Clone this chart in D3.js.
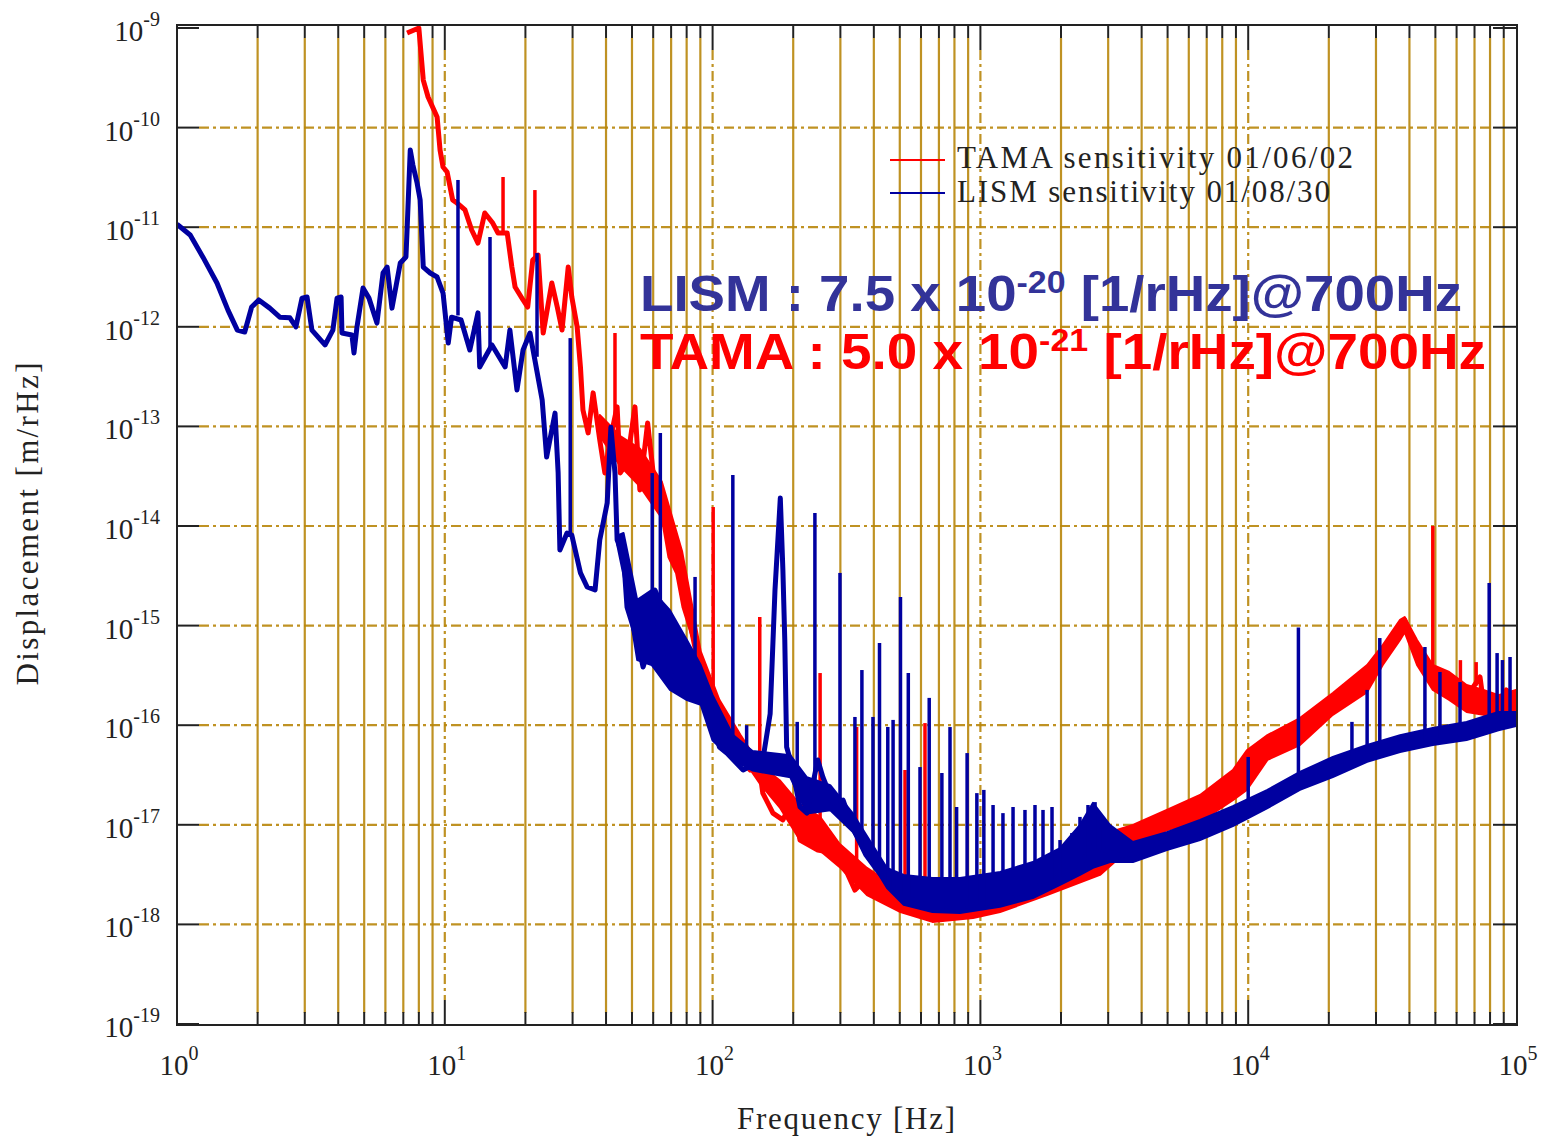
<!DOCTYPE html>
<html>
<head>
<meta charset="utf-8">
<script src="https://cdn.jsdelivr.net/npm/d3@7"></script>
<style>
  body { margin: 0; background: #fff; }
  svg { display: block; }
</style>
</head>
<body>
<div id="chart"></div>
<script>
// LISM sensitivity 01/08/30 (blue), Hz vs m/rHz
var lismFreq = [1.0, 1.12, 1.25, 1.41, 1.55, 1.68, 1.79, 1.9, 2.02, 2.22, 2.42, 2.64, 2.78, 2.93, 3.06, 3.19,
  3.57, 3.82, 3.96, 4.1, 4.13, 4.5, 4.58, 4.7, 4.95, 5.21, 5.58, 5.88, 6.09, 6.35, 6.82, 7.16, 7.23, 7.43,
  7.6, 7.88, 8.09, 8.31, 8.82, 9.36, 9.85, 10.3, 10.6, 11.5, 12.4, 13.3, 13.5, 15.0, 16.8, 17.5, 18.6, 19.6,
  20.8, 23.1, 24.0, 25.8, 26.5, 26.9, 28.6, 29.8, 32.1, 34.0, 36.4, 37.9, 40.4, 41.7, 43.2, 44.0, 46.5, 47.9,
  52.3, 55.0, 59.2, 60.9, 65.0, 69.3, 80.2, 95, 100, 106, 113, 130, 141, 154, 164, 171, 179, 183, 186, 189,
  195, 212, 225, 247, 258, 282, 307, 334, 374, 411, 448, 517, 580, 662, 839, 970, 1184, 1406, 1773, 2100,
  2400, 2650, 2900, 3300, 3712, 4967, 6610, 8762, 9885, 11800, 15300, 15750, 20700, 25000, 28500, 36900,
  46900, 53400, 63500, 73400, 81000, 91000, 100000];
var lismDisp = [1.07e-11, 8.35e-12, 5.0e-12, 2.75e-12, 1.47e-12, 9.27e-13, 8.86e-13, 1.58e-12, 1.86e-12,
  1.54e-12, 1.25e-12, 1.23e-12, 1.0e-12, 1.94e-12, 1.99e-12, 9.27e-13, 6.57e-13, 9.27e-13, 1.94e-12,
  1.99e-12, 8.66e-13, 8.28e-13, 5.46e-13, 1.0e-12, 2.45e-12, 1.94e-12, 1.09e-12, 3.47e-12, 3.98e-12,
  1.54e-12, 4.37e-12, 5.02e-12, 9.37e-12, 5.96e-11, 4.21e-11, 2.78e-11, 1.88e-11, 3.98e-12, 3.47e-12,
  3.16e-12, 2.18e-12, 6.86e-13, 1.25e-12, 1.17e-12, 5.85e-13, 1.38e-12, 3.95e-13, 6.57e-13, 3.95e-13,
  9.27e-13, 2.32e-13, 5.85e-13, 8.66e-13, 1.84e-13, 4.93e-14, 1.36e-13, 3.41e-14, 5.74e-15, 8.5e-15,
  8.1e-15, 3.38e-15, 2.44e-15, 2.28e-15, 7.24e-15, 1.70e-14, 9.8e-14, 3.41e-14, 7.24e-15, 4.88e-15,
  1.54e-15, 7.18e-16, 3.84e-16, 7.18e-16, 2.28e-15, 1.54e-15, 3.34e-16, 2.26e-16, 2.26e-16, 1.13e-16,
  6.04e-17, 5.25e-17, 3.55e-17, 3.98e-17, 4.48e-17, 1.3e-16, 2.28e-15, 1.91e-14, 3.62e-15, 7.18e-16,
  6.04e-17, 4.48e-17, 1.51e-17, 1.31e-17, 4.48e-17, 3.02e-17, 1.66e-17, 1.77e-17, 9.27e-18, 4.97e-18,
  3.52e-18, 2.66e-18, 1.97e-18, 1.68e-18, 1.53e-18, 1.50e-18, 1.57e-18, 1.76e-18, 2.07e-18, 2.66e-18,
  3.36e-18, 4.23e-18, 6.28e-18, 5.58e-18, 4.97e-18, 5.1e-18, 7.03e-18, 8.86e-18, 1.17e-17, 1.41e-17,
  1.77e-17, 2.63e-17, 2.95e-17, 3.98e-17, 5.0e-17, 5.63e-17, 6.6e-17, 7.1e-17, 7.44e-17, 7.8e-17,
  8.35e-17, 9.37e-17, 1.08e-16, 1.08e-16];
// noise band of the trace: [frequency, bottom, top]
var lismBand = [[44.0, 6.5e-15, 8e-15], [46.5, 3.2e-15, 8.5e-15], [52.3, 4.51e-16, 1.81e-15],
  [59.2, 4.02e-16, 2.28e-15], [69.3, 2.26e-16, 1.43e-15], [80.2, 1.79e-16, 7.18e-16], [90.3, 1.6e-16, 4.02e-16],
  [100, 7e-17, 2.0e-16], [119, 4.5e-17, 8e-17], [141, 3.5e-17, 5.5e-17], [195, 3e-17, 5e-17],
  [225, 1.3e-17, 3e-17], [275, 1.4e-17, 2.5e-17], [334, 8.45e-18, 1.3e-17],
  [448, 2.32e-18, 3.69e-18], [517, 1.57e-18, 3.14e-18],
  [662, 1.33e-18, 2.93e-18], [839, 1.30e-18, 2.93e-18], [1184, 1.5e-18, 3.36e-18], [1571, 1.84e-18, 4.23e-18],
  [1983, 2.49e-18, 5.84e-18], [2354, 3.14e-18, 9.95e-18], [2633, 3.69e-18, 1.66e-17], [3050, 4.23e-18, 9.95e-18],
  [3712, 4.23e-18, 6.71e-18], [4967, 5.58e-18, 8.45e-18], [6610, 7.03e-18, 1.12e-17], [8762, 9.7e-18, 1.54e-17],
  [11800, 1.47e-17, 2.24e-17], [15600, 2.24e-17, 3.39e-17], [20700, 3.02e-17, 4.8e-17], [27800, 4.28e-17, 6.33e-17],
  [36900, 5.37e-17, 7.95e-17], [48900, 6.33e-17, 9.37e-17], [65400, 7.1e-17, 1.08e-16], [86000, 8.9e-17, 1.36e-16],
  [100000, 9.8e-17, 1.36e-16]];
// narrow lines: [frequency, foot, peak]
var lismSpikes = [[11.2, 1.3e-12, 2.98e-11], [14.75, 6e-13, 7.97e-12], [22.1, 5e-13, 5.5e-12],
  [29.4, 8e-15, 7.7e-13], [59.5, 7e-16, 3.4e-14], [63.8, 1.6e-15, 8.6e-14], [86.0, 2.3e-16, 3.08e-15],
  [119, 5.5e-17, 3.25e-14], [134, 4e-17, 1.0e-16], [207, 2.5e-17, 1.08e-16], [241, 1.35e-17, 1.35e-14],
  [299, 1.7e-17, 3.38e-15], [340, 8e-18, 1.21e-16], [361, 6e-18, 3.58e-16], [397, 4e-18, 1.21e-16],
  [420, 3.3e-18, 6.7e-16], [451, 2.6e-18, 9.6e-17], [472, 2.4e-18, 1.13e-16], [503, 2e-18, 1.94e-15],
  [538, 1.9e-18, 3.34e-16], [595, 1.65e-18, 3.8e-17], [644, 1.55e-18, 1.88e-16], [718, 1.5e-18, 3.31e-17],
  [770, 1.5e-18, 9.58e-17], [815, 1.5e-18, 1.51e-17], [892, 1.5e-18, 5.25e-17], [970, 1.55e-18, 2.08e-17],
  [1030, 1.6e-18, 2.24e-17], [1115, 1.7e-18, 1.58e-17], [1214, 1.8e-18, 1.31e-17], [1324, 1.95e-18, 1.51e-17],
  [1467, 2.15e-18, 1.41e-17], [1599, 2.35e-18, 1.58e-17], [1713, 2.55e-18, 1.41e-17], [1851, 2.8e-18, 1.51e-17],
  [1983, 3e-18, 7.03e-18], [2197, 3.4e-18, 8.28e-18], [2354, 3.9e-18, 1.2e-17], [2522, 4.6e-18, 1.58e-17],
  [2680, 5.5e-18, 1.69e-17], [2796, 5.5e-18, 1.26e-17], [2970, 5.4e-18, 9.27e-18], [10000, 1.41e-17, 4.8e-17],
  [15400, 2.7e-17, 9.55e-16], [24400, 5e-17, 1.08e-16], [27800, 5.4e-17, 2.26e-16], [31000, 5.9e-17, 7.5e-16],
  [45700, 7e-17, 6.1e-16], [52000, 7.3e-17, 3.42e-16], [61800, 7.7e-17, 2.71e-16], [79400, 8.8e-17, 2.68e-15],
  [85000, 1e-16, 5.3e-16], [89000, 1.05e-16, 4.51e-16], [95000, 1.1e-16, 4.84e-16]];

// TAMA sensitivity 01/06/02 (red)
var tamaFreq = [7.23, 8.0, 8.31, 8.66, 9.36, 9.6, 9.85, 10.2, 10.7, 11.1, 11.9, 12.6, 13.3, 14.1, 15.1, 15.8,
  17.1, 17.8, 18.3, 19.6, 20.4, 21.3, 22.3, 23.3, 25.1, 26.3, 27.4, 28.9, 29.8, 31.2, 32.1, 32.8, 34.3, 35.8,
  37.9, 39.6, 41.4, 44.0, 45.2, 47.9, 51.3, 53.5, 57.2, 60.4, 65.9, 69.3, 74.0, 78.2, 85.5, 90.3, 98.8, 103,
  106, 119, 138, 148, 154, 168, 183, 199, 212, 247, 282, 318, 340, 355, 377, 448, 503, 538, 560, 637, 792,
  939, 1115, 1406, 1773, 2217, 2796, 3233, 3712, 4967, 6610, 8762, 9885, 11800, 15600, 20700, 27800, 31800,
  36900, 38400, 42700, 46600, 48500, 56300, 65400, 73400, 75600, 86000, 92000, 97500, 100000];
var tamaDisp = [8.9e-10, 1.0e-9, 3.0e-10, 2.03e-10, 1.28e-10, 5.96e-11, 4.02e-11, 3.58e-11, 1.88e-11,
  1.75e-11, 1.49e-11, 9.37e-12, 6.93e-12, 1.39e-11, 1.10e-11, 8.75e-12, 8.75e-12, 3.98e-12, 2.51e-12,
  1.86e-12, 1.58e-12, 4.68e-12, 5.25e-12, 8.66e-13, 2.75e-12, 1.58e-12, 9.27e-13, 3.98e-12, 1.99e-12,
  1.0e-12, 3.95e-13, 1.46e-13, 8.6e-14, 2.17e-13, 7.3e-14, 3.41e-14, 7.3e-14, 1.57e-13, 3.41e-14, 4.3e-14,
  1.57e-13, 2.3e-14, 1.08e-13, 2.9e-14, 1.07e-14, 4.88e-15, 3.38e-15, 1.54e-15, 7.18e-16, 3.34e-16,
  1.79e-16, 1.79e-16, 1.33e-16, 6.04e-17, 3.55e-17, 4.48e-17, 2.08e-17, 1.31e-17, 1.12e-17, 1.77e-17,
  7.03e-18, 5.58e-18, 5.23e-18, 3.28e-18, 2.21e-18, 2.49e-18, 2.79e-18, 2.07e-18, 1.64e-18, 1.57e-18,
  1.39e-18, 1.33e-18, 1.19e-18, 1.39e-18, 1.88e-18, 2.21e-18, 2.79e-18, 3.28e-18, 4.54e-18, 7.03e-18,
  8.28e-18, 1.2e-17, 1.51e-17, 2.63e-17, 4.17e-17, 6.04e-17, 8.95e-17, 1.67e-16, 3.05e-16, 5.69e-16,
  9.7e-16, 1.14e-15, 5.69e-16, 3.34e-16, 2.84e-16, 2.65e-16, 1.92e-16, 3.05e-16, 1.67e-16, 1.52e-16,
  2.26e-16, 1.92e-16, 1.79e-16];
var tamaBand = [[37.9, 8e-14, 1.3e-13], [45.2, 4e-14, 8e-14], [53.5, 2.5e-14, 6e-14],
  [64.6, 1.2e-14, 2.8e-14], [77.0, 2.2e-15, 5.5e-15], [90.3, 2.6e-16, 5.5e-16], [106, 1.1e-16, 1.8e-16],
  [127, 5e-17, 8e-17], [150, 2.6e-17, 4e-17], [178, 1.5e-17, 2.8e-17], [212, 7e-18, 1.6e-17],
  [252, 5.5e-18, 1.2e-17], [297, 3.8e-18, 6.5e-18], [377, 1.97e-18, 3.69e-18], [503, 1.33e-18, 2.21e-18],
  [662, 1.06e-18, 1.97e-18], [939, 1.16e-18, 2.21e-18], [1184, 1.33e-18, 2.79e-18], [1773, 1.97e-18, 3.96e-18],
  [2796, 3.14e-18, 6.28e-18], [3233, 4.43e-18, 8.86e-18], [3712, 5.84e-18, 9.95e-18], [4967, 8.86e-18, 1.41e-17],
  [6610, 1.07e-17, 1.99e-17], [8762, 1.77e-17, 3.55e-17], [9885, 2.24e-17, 5.6e-17], [11800, 4.48e-17, 7.95e-17],
  [15600, 6.33e-17, 1.18e-16], [20700, 1.27e-16, 2.1e-16], [27800, 2.15e-16, 4.02e-16], [31800, 4.02e-16, 6.38e-16],
  [36900, 7.18e-16, 1.14e-15], [38400, 8.6e-16, 1.22e-15], [42700, 4.02e-16, 7.18e-16], [48900, 2.26e-16, 4.02e-16],
  [56300, 1.79e-16, 3.42e-16], [65400, 1.36e-16, 2.53e-16], [75600, 1.27e-16, 2.26e-16], [86000, 1.13e-16, 2.0e-16],
  [100000, 1.27e-16, 2.26e-16]];
var tamaSpikes = [[16.5, 8.75e-12, 3.19e-11], [21.7, 4.5e-12, 2.36e-11], [43.2, 1.2e-13, 8.66e-13],
  [100.5, 1.79e-16, 1.55e-14], [150, 3e-17, 1.22e-15], [252, 5.5e-18, 3.34e-16], [345, 2.3e-18, 9.58e-17],
  [523, 1.6e-18, 3.55e-17], [621, 1.35e-18, 1.05e-16], [48900, 2.8e-16, 1.0e-14], [62000, 2.2e-16, 4.5e-16],
  [71000, 2.5e-16, 4.3e-16]];

var xDecades = [0, 1, 2, 3, 4, 5];
var yDecades = [-9, -10, -11, -12, -13, -14, -15, -16, -17, -18, -19];
var legendNames = ['TAMA sensitivity 01/06/02', 'LISM sensitivity 01/08/30'];

var W = 1545, H = 1140;
var pl = 177, pr = 1517, pt = 25, pb = 1025;
var gridColor = '#b8860b', ink = '#222';
var serif = "'Palatino Linotype', 'Book Antiqua', Palatino, 'Liberation Serif', 'Times New Roman', serif";
var sans = "Arial, 'Liberation Sans', Helvetica, sans-serif";
var red = '#ff0000', blue = '#0000a0';

var svg = d3.select('#chart').append('svg').attr('width', W).attr('height', H);

var x = d3.scaleLog().domain([1, 1e5]).range([177, 1516]);
var y = d3.scaleLog().domain([1e-9, 1e-19]).range([28, 1024]);

// grid
var minorX = [];
xDecades.slice(0, -1).forEach(function(k) {
  for (var m = 2; m <= 9; m++) minorX.push(m * Math.pow(10, k));
});
var midX = xDecades.slice(1, -1).map(function(k) { return Math.pow(10, k); });
var midY = yDecades.slice(1, -1).map(function(e) { return Math.pow(10, e); });

var g = svg.append('g').attr('stroke', gridColor).attr('stroke-width', 2.2).attr('stroke-opacity', 0.9);
g.selectAll('.vminor').data(minorX).enter().append('line')
  .attr('x1', x).attr('x2', x).attr('y1', pt + 13).attr('y2', pb - 12);
g.selectAll('.vmajor').data(midX).enter().append('line')
  .attr('x1', x).attr('x2', x).attr('y1', pt + 25).attr('y2', pb - 25)
  .attr('stroke-dasharray', '10,4,3,4');
g.selectAll('.hmajor').data(midY).enter().append('line')
  .attr('x1', pl + 22).attr('x2', pr - 24).attr('y1', y).attr('y2', y)
  .attr('stroke-dasharray', '10,4,3,4');

// ticks
var t = svg.append('g').attr('stroke', ink).attr('stroke-width', 2);
[pt, pb].forEach(function(edge) {
  var dir = edge === pt ? 1 : -1;
  t.selectAll(null).data(minorX).enter().append('line')
    .attr('x1', x).attr('x2', x).attr('y1', edge).attr('y2', edge + dir * 13);
  t.selectAll(null).data(midX).enter().append('line')
    .attr('x1', x).attr('x2', x).attr('y1', edge).attr('y2', edge + dir * 25);
});
var allY = yDecades.map(function(e) { return Math.pow(10, e); });
t.selectAll(null).data(allY).enter().append('line')
  .attr('x1', pl).attr('x2', pl + 22).attr('y1', y).attr('y2', y);
t.selectAll(null).data(allY).enter().append('line')
  .attr('x1', pr - 24).attr('x2', pr).attr('y1', y).attr('y2', y);

// curves
svg.append('clipPath').attr('id', 'clip').append('rect')
  .attr('x', pl).attr('y', pt).attr('width', pr - pl).attr('height', pb - pt);
var plot = svg.append('g').attr('clip-path', 'url(#clip)');
var line = d3.line().x(function(d) { return x(d[0]); }).y(function(d) { return y(d[1]); });
var band = d3.area().x(function(d) { return x(d[0]); })
  .y0(function(d) { return y(d[1]); }).y1(function(d) { return y(d[2]); });

function drawTrace(freq, disp, noise, spikes, color) {
  plot.append('path').datum(noise).attr('d', band)
    .attr('fill', color).attr('stroke', color).attr('stroke-width', 2).attr('stroke-linejoin', 'round');
  plot.append('path').datum(d3.zip(freq, disp))
    .attr('d', line).attr('fill', 'none').attr('stroke', color)
    .attr('stroke-width', 5).attr('stroke-linejoin', 'round');
  plot.append('g').selectAll('line').data(spikes).enter().append('line')
    .attr('x1', function(d) { return x(d[0]); }).attr('x2', function(d) { return x(d[0]); })
    .attr('y1', function(d) { return y(d[1]); }).attr('y2', function(d) { return y(d[2]); })
    .attr('stroke', color).attr('stroke-width', 3.5);
}
drawTrace(tamaFreq, tamaDisp, tamaBand, tamaSpikes, red);
drawTrace(lismFreq, lismDisp, lismBand, lismSpikes, blue);

// frame
svg.append('rect').attr('x', pl).attr('y', pt).attr('width', pr - pl).attr('height', pb - pt)
  .attr('fill', 'none').attr('stroke', ink).attr('stroke-width', 2);

// tick labels
var yl = svg.append('g').attr('font-family', serif).attr('fill', '#222');
yDecades.forEach(function(e) {
  var txt = yl.append('text').attr('x', 160).attr('y', y(Math.pow(10, e)) + 13)
    .attr('text-anchor', 'end').attr('font-size', 29);
  txt.append('tspan').text('10');
  txt.append('tspan').attr('dy', -15).attr('font-size', 20).text(e);
});
xDecades.forEach(function(k) {
  var txt = yl.append('text').attr('x', x(Math.pow(10, k)) + 2).attr('y', 1075)
    .attr('text-anchor', 'middle').attr('font-size', 29);
  txt.append('tspan').text('10');
  txt.append('tspan').attr('dy', -15).attr('font-size', 20).text(k);
});

// axis titles
yl.append('text').attr('x', 846).attr('y', 1129).attr('text-anchor', 'middle')
  .attr('font-size', 31).attr('textLength', 218).text('Frequency [Hz]');
yl.append('text').attr('transform', 'translate(38,524) rotate(-90)').attr('text-anchor', 'middle')
  .attr('font-size', 31).attr('textLength', 323).text('Displacement [m/rHz]');

// legend
var legend = svg.append('g').attr('font-family', serif);
[[red, 160, 168, 396], [blue, 193, 202, 373]].forEach(function(row, i) {
  legend.append('line').attr('x1', 890).attr('x2', 945).attr('y1', row[1]).attr('y2', row[1])
    .attr('stroke', row[0]).attr('stroke-width', 2);
  legend.append('text').attr('x', 957).attr('y', row[2]).attr('font-size', 31)
    .attr('fill', '#222').attr('textLength', row[3]).text(legendNames[i]);
});

// annotation
function note(yPos, color, head, exp, width) {
  var txt = svg.append('text').attr('x', 640).attr('y', yPos).attr('font-family', sans)
    .attr('font-weight', 'bold').attr('font-size', 50).attr('fill', color)
    .attr('textLength', width).attr('lengthAdjust', 'spacingAndGlyphs');
  txt.append('tspan').text(head);
  txt.append('tspan').attr('dy', -18).attr('font-size', 31).text(exp);
  txt.append('tspan').attr('dy', 18).text(' [1/rHz]@700Hz');
}
note(311, '#333399', 'LISM : 7.5 x 10', '-20', 822);
note(369, red, 'TAMA : 5.0 x 10', '-21', 846);
</script>
</body>
</html>
